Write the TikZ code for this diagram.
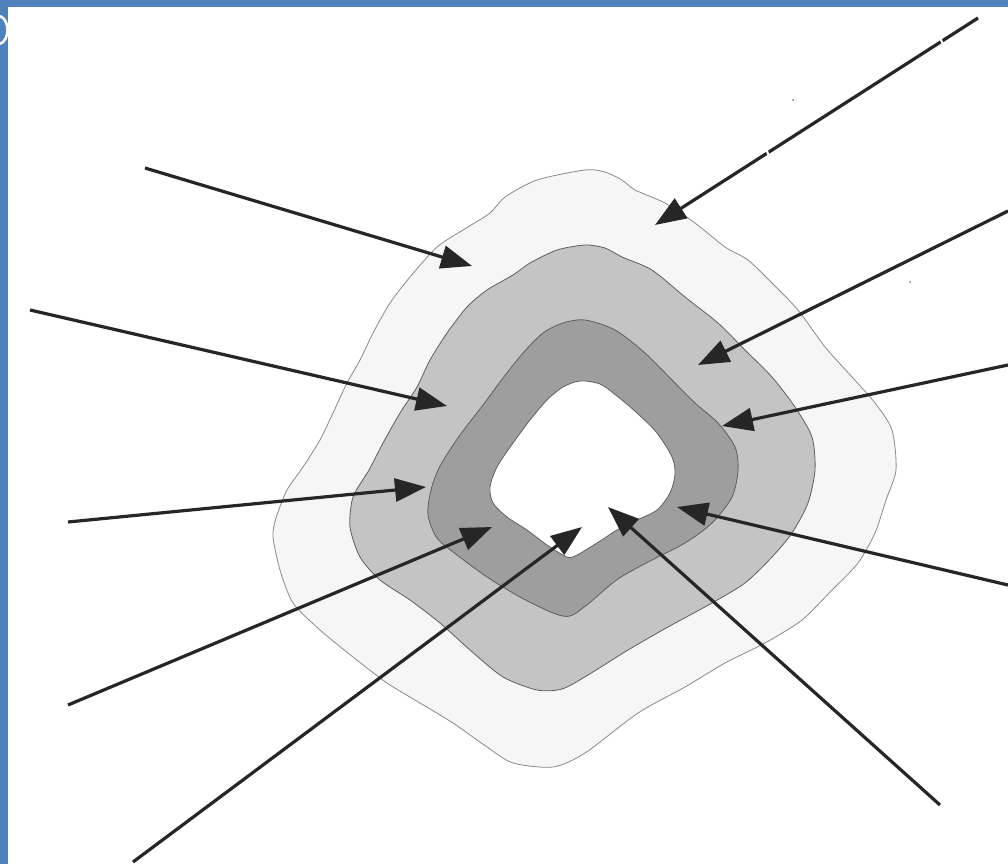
\documentclass[tikz,border=0pt]{standalone}
\usetikzlibrary{arrows.meta}
\definecolor{frameblue}{HTML}{4F81BD}
\definecolor{outerfill}{HTML}{F6F6F6}
\definecolor{midfill}{HTML}{C4C4C4}
\definecolor{darkfill}{HTML}{9E9E9E}
\definecolor{edgegray}{HTML}{5E5E5E}
\definecolor{thinedge}{HTML}{8A8A8A}
\definecolor{arrowink}{HTML}{262626}
\tikzset{
  zone/.style={draw=edgegray, line width=0.8pt},
  pointer/.style={draw=arrowink, line width=3.2pt,
    -{Triangle[length=31pt,width=23pt]}},
}
\begin{document}
\begin{tikzpicture}[x=1pt,y=-1pt]
\useasboundingbox (0,0) rectangle (1008,864);
\fill[white] (0,0) rectangle (1008,864);
% frame bands
\fill[frameblue] (0,0) rectangle (1008,7);
\fill[frameblue] (0,0) rectangle (8,864);
\draw[white, line width=2.6pt] (0,16) .. controls (10,20) and (10,40) .. (0,44);
% zones
\draw[zone, draw=thinedge, fill=outerfill] plot[smooth cycle, tension=0.45] coordinates {
 (585,170) (605,172) (622,180) (635,190) (665,203) (695,223) (725,247)
 (748,260) (772,283) (798,310) (825,347) (852,377) (875,403) (892,430)
 (896,470) (886,500) (875,533) (858,563) (832,590) (802,620) (765,643)
 (725,663) (685,687) (638,713) (585,753) (553,767) (513,763) (487,747)
 (453,723) (420,703) (387,683) (353,657) (320,630) (293,603) (280,570)
 (273,537) (276,518) (287,490) (303,467) (320,440) (333,413) (347,383)
 (360,360) (373,333) (390,303) (410,277) (437,247) (463,230) (490,213)
 (505,197) (537,180)};
\draw[zone, fill=midfill] plot[smooth cycle, tension=0.45] coordinates {
 (585,245) (605,248) (622,257) (652,270) (685,297) (718,323) (745,350)
 (772,377) (795,407) (812,437) (815,470) (808,503) (792,533) (772,557)
 (745,583) (712,603) (668,627) (628,650) (588,675) (562,689) (537,690)
 (503,677) (470,650) (440,623) (410,600) (380,580) (360,557) (350,527)
 (353,497) (369,470) (383,443) (400,413) (417,387) (430,360) (447,333)
 (467,307) (487,290) (513,275) (530,263) (557,250)};
\draw[zone, fill=darkfill] plot[smooth cycle, tension=0.5] coordinates {
 (585,320) (615,330) (645,353) (672,380) (695,403) (718,423) (735,447)
 (738,470) (732,497) (712,523) (685,543) (652,560) (618,579) (588,604)
 (570,616) (553,613) (520,597) (487,577) (457,555) (437,538) (428,515)
 (431,490) (440,466) (460,435) (483,405) (503,378) (523,353) (543,333)
 (563,323)};
\draw[zone, fill=white] plot[smooth cycle, tension=0.5] coordinates {
 (580,381) (600,384) (617,396) (637,413) (657,433) (672,457) (675,474)
 (670,493) (657,510) (637,520) (617,530) (597,543) (577,555) (567,557)
 (547,545) (527,530) (507,517) (493,503) (490,487) (497,467) (513,443)
 (530,420) (547,400) (563,387)};
% specks
\fill[gray] (793,100) circle (1pt);
\fill[gray] (910,282) circle (1pt);
% arrow ends
\coordinate (s1) at (145,168);  \coordinate (t1) at (472,266);
\coordinate (s2) at (978,18);   \coordinate (t2) at (655,225);
\coordinate (s3) at (1008,211); \coordinate (t3) at (698,365);
\coordinate (s4) at (1008,365); \coordinate (t4) at (722,426);
\coordinate (s5) at (1008,585); \coordinate (t5) at (677,507);
\coordinate (s6) at (940,805);  \coordinate (t6) at (608,507);
\coordinate (s7) at (133,862);  \coordinate (t7) at (582,527);
\coordinate (s8) at (68,705);   \coordinate (t8) at (492,527);
\coordinate (s9) at (68,522);   \coordinate (t9) at (426,487);
\coordinate (s10) at (30,310);  \coordinate (t10) at (447,406);
\foreach \i in {1,...,10} { \draw[pointer] (s\i) -- (t\i); }
% small breaks in the upper right pointer
\draw[white, line width=2.2pt] (939,35) -- (944,47);
\draw[white, line width=2.2pt] (764,144) -- (769,156);
\end{tikzpicture}
\end{document}
